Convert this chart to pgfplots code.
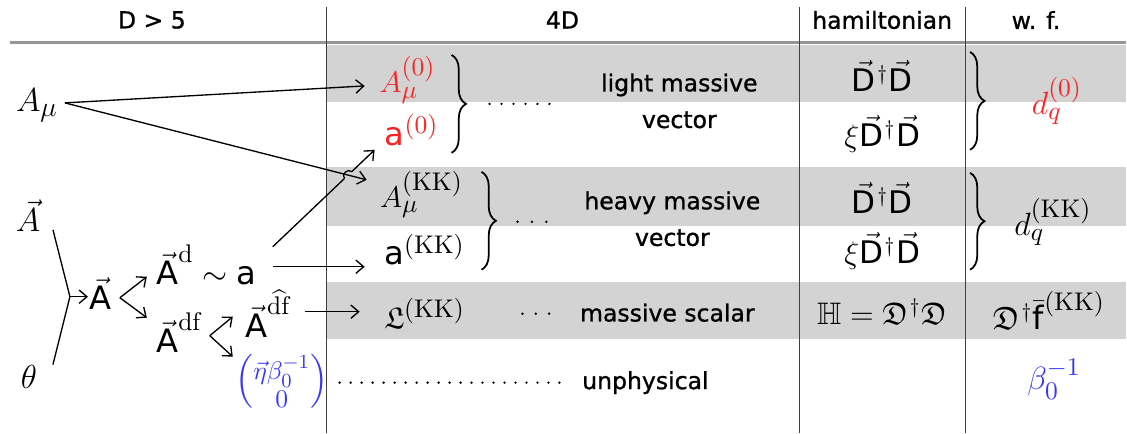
\documentclass[border=0pt]{standalone}
\usepackage{fix-cm}
\usepackage{amsmath,amssymb}
\usepackage[no-math]{fontspec}
\newfontfamily\dv{DejaVu Sans}
\newfontfamily\dvt[FakeBold=1]{DejaVu Sans}
\usepackage{pgfplots}
\pgfplotsset{compat=1.18}
\usetikzlibrary{arrows.meta,decorations.pathreplacing}
\DeclareMathSizes{15}{15}{12.5}{10}
\DeclareMathSizes{13.5}{13.5}{11.5}{9}
\DeclareMathSizes{14}{14}{11.5}{9}
\DeclareMathSizes{14.5}{14.5}{11.5}{9}
\definecolor{band}{RGB}{211,211,211}
\definecolor{rulegray}{RGB}{150,150,150}
\definecolor{rd}{RGB}{250,35,35}
\definecolor{bl}{RGB}{55,55,250}
\newcommand\sL[1]{\text{\dv #1}}
% dagger set close to the cap height, as in the reference
\newcommand\dg{\mkern1mu\raisebox{5pt}{\fontsize{9.5}{10}\selectfont$\dagger$}\mkern1mu}
\newcommand\DD{\vec{\sL{D}}\dg\vec{\sL{D}}}
\tikzset{
    arr/.style={line width=0.6pt, -{Straight Barb[length=3.5pt,width=6pt]}},
    ln/.style={line width=0.6pt},
    br/.style={line width=0.8pt, decorate, decoration={brace, amplitude=6.5pt}},
    txt/.style={font=\dvt\fontsize{10.6}{12}\selectfont, inner sep=0pt},
    mL/.style={font=\fontsize{15}{17}\selectfont, inner sep=0pt},
    mS/.style={font=\fontsize{14.5}{16}\selectfont, inner sep=0pt},
    m4/.style={font=\fontsize{13.5}{15}\selectfont, inner sep=0pt},
    mH/.style={font=\fontsize{14}{16}\selectfont, inner sep=0pt},
    mW/.style={font=\fontsize{14.5}{16}\selectfont, inner sep=0pt},
}

\begin{document}
\begin{tikzpicture}
\begin{axis}[
    width=507.15pt, height=194.85pt, scale only axis, hide axis,
    xmin=0, xmax=1127, ymin=0, ymax=433, y dir=reverse, clip=false,
]
\path (axis cs:0,0) rectangle (axis cs:1127,433);

% grey bands
\addplot[fill=band, draw=none] coordinates {(327,45)(1127,45)(1127,102)(327,102)};
\addplot[fill=band, draw=none] coordinates {(327,167)(1127,167)(1127,226)(327,226)};
\addplot[fill=band, draw=none] coordinates {(327,282)(1127,282)(1127,339)(327,339)};

% rules
\addplot[rulegray, line width=1pt] coordinates {(10,42.5)(1127,42.5)};
\addplot[black!75, line width=0.5pt] coordinates {(327,7)(327,433)};
\addplot[black!75, line width=0.5pt] coordinates {(800,7)(800,433)};
\addplot[black!75, line width=0.5pt] coordinates {(966,7)(966,433)};

% headers
\node[txt] at (axis cs:152,20) {D > 5};
\node[txt] at (axis cs:563,20) {4D};
\node[txt] at (axis cs:883,20) {hamiltonian};
\node[txt] at (axis cs:1037,20) {w. f.};

% left column
\node[mL] at (axis cs:37,105) {$A_\mu$};
\node[mL] at (axis cs:28,216) {$\vec{A}$};
\node[mL] at (axis cs:29,377) {$\theta$};
\addplot[ln] coordinates {(53,230)(70,297)(53,365)};
\addplot[arr] coordinates {(70,297)(88,297)};
\node[mS] at (axis cs:101,294) {$\vec{\sL{A}}$};
\addplot[arr] coordinates {(120,298)(147,277)};
\addplot[arr] coordinates {(120,298)(147,318)};
\node[mS, anchor=west] at (axis cs:156,265) {$\vec{\sL{A}}^{\mathrm{d}}\sim\sL{a}$};
\node[mS, anchor=west] at (axis cs:156,333) {$\vec{\sL{A}}^{\mathrm{df}}$};
\addplot[arr] coordinates {(210,336)(233,317)};
\addplot[arr] coordinates {(210,336)(233,357)};
\node[mS, anchor=west] at (axis cs:245,314) {$\vec{\sL{A}}^{\widehat{\mathrm{df}}}$};
\node[m4, text=bl] at (axis cs:282,382) {$\left(\!\begin{smallmatrix}\vec{\eta}\beta_0^{-1}\\ 0\end{smallmatrix}\!\right)$};

% arrows into 4D
\addplot[arr] coordinates {(65,103)(365,86)};
\addplot[arr] coordinates {(65,103)(367,180)};
\addplot[ln] coordinates {(273,247)(344.8,178.7)};
\draw[line width=0.6pt] (axis cs:344.8,178.7) to[bend left=90, looseness=1.4] (axis cs:352,171.9);
\addplot[arr] coordinates {(352,171.9)(375,150)};
\addplot[arr] coordinates {(273,267)(365,267)};
\addplot[arr] coordinates {(305,312)(360,312)};

% 4D column
\node[m4, text=rd] at (axis cs:408,80) {$A_\mu^{(0)}$};
\node[mS, text=rd] at (axis cs:412,130) {$\sL{a}^{(0)}$};
\draw[br] (axis cs:452,55) -- (axis cs:452,153);
\addplot[line width=1.2pt, line cap=round, dash pattern=on 0pt off 5.4pt] coordinates {(490,104)(552,104)};
\node[m4] at (axis cs:422,195) {$A_\mu^{(\mathrm{KK})}$};
\node[mS] at (axis cs:425,250) {$\sL{a}^{(\mathrm{KK})}$};
\draw[br] (axis cs:482,172) -- (axis cs:482,270);
\addplot[line width=1.2pt, line cap=round, dash pattern=on 0pt off 6.5pt] coordinates {(518,222)(548,222)};
\node[m4] at (axis cs:425,314) {$\mathfrak{L}^{(\mathrm{KK})}$};
\addplot[line width=1.2pt, line cap=round, dash pattern=on 0pt off 6pt] coordinates {(523,314)(551,314)};
\addplot[line width=1.2pt, line cap=round, dash pattern=on 0pt off 4.95pt] coordinates {(340,383)(562,383)};

\node[txt] at (axis cs:680,85) {light massive};
\node[txt] at (axis cs:680,120) {vector};
\node[txt] at (axis cs:673,203) {heavy massive};
\node[txt] at (axis cs:673,238) {vector};
\node[txt] at (axis cs:668,313) {massive scalar};
\node[txt] at (axis cs:646,383) {unphysical};

% hamiltonian column
\node[mH] at (axis cs:883,76) {$\DD$};
\node[mH] at (axis cs:883,134) {$\xi\DD$};
\node[mH] at (axis cs:883,198) {$\DD$};
\node[mH] at (axis cs:883,251) {$\xi\DD$};
\node[mH] at (axis cs:883,312) {$\mathbb{H}=\mathfrak{D}\dg\mathfrak{D}$};

% w. f. column
\draw[br] (axis cs:971,52) -- (axis cs:971,150);
\draw[br] (axis cs:971,173) -- (axis cs:971,270);
\node[mW, text=rd] at (axis cs:1058,101) {$d_q^{(0)}$};
\node[mW] at (axis cs:1054,222) {$d_q^{(\mathrm{KK})}$};
\node[mW] at (axis cs:1050,311) {$\mathfrak{D}\dg\bar{\sL{f}}^{(\mathrm{KK})}$};
\node[mW, text=bl] at (axis cs:1055,380) {$\beta_0^{-1}$};
\end{axis}
\end{tikzpicture}
\end{document}
